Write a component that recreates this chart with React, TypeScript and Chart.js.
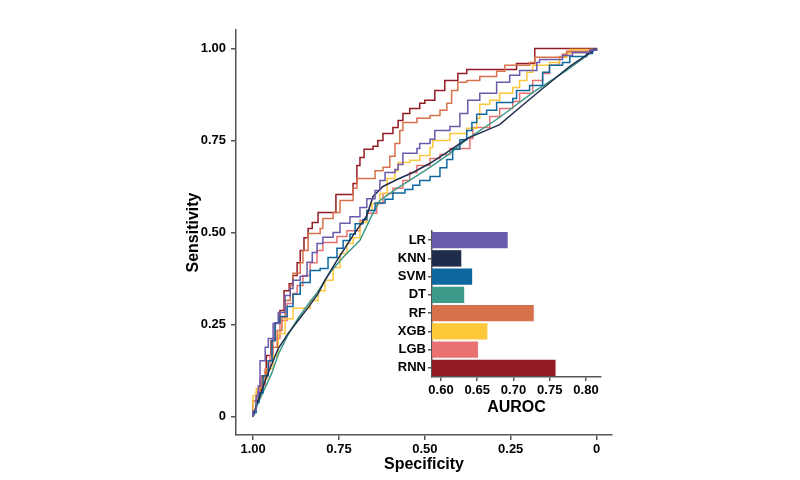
import React, { useEffect, useRef } from "react";
import { Chart, registerables } from "chart.js";

Chart.register(...registerables);

// ---- ROC curves (specificity / sensitivity) ----
const lrSpec = [1, 1.0, 0.991, 0.985, 0.98, 0.965, 0.956, 0.942, 0.927, 0.907, 0.892, 0.884, 0.863, 0.843, 0.828, 0.814, 0.797, 0.767, 0.747, 0.718, 0.689, 0.669, 0.645, 0.631, 0.616, 0.587, 0.578, 0.564, 0.523, 0.515, 0.485, 0.471, 0.427, 0.398, 0.375, 0.34, 0.291, 0.253, 0.224, 0.174, 0.166, 0.099, 0.07, 0.02, 0];
const lrSens = [0, 0.016, 0.057, 0.084, 0.152, 0.188, 0.212, 0.253, 0.283, 0.329, 0.348, 0.37, 0.381, 0.419, 0.446, 0.47, 0.487, 0.5, 0.525, 0.543, 0.568, 0.592, 0.614, 0.641, 0.663, 0.671, 0.685, 0.715, 0.728, 0.742, 0.753, 0.777, 0.788, 0.823, 0.859, 0.878, 0.908, 0.927, 0.94, 0.962, 0.97, 0.981, 0.989, 0.995, 1];

const knnSpec = [1, 0.991, 0.98, 0.965, 0.945, 0.927, 0.898, 0.869, 0.84, 0.811, 0.791, 0.756, 0.709, 0.669, 0.651, 0.622, 0.581, 0.535, 0.485, 0.427, 0.378, 0.282, 0.233, 0.157, 0.078, 0];
const knnSens = [0, 0.03, 0.057, 0.098, 0.144, 0.185, 0.226, 0.261, 0.296, 0.334, 0.37, 0.424, 0.492, 0.546, 0.598, 0.625, 0.644, 0.663, 0.688, 0.723, 0.755, 0.793, 0.832, 0.891, 0.951, 1];

const svmSpec = [1, 1.0, 0.991, 0.983, 0.971, 0.956, 0.945, 0.936, 0.922, 0.901, 0.884, 0.863, 0.834, 0.805, 0.782, 0.756, 0.738, 0.718, 0.703, 0.68, 0.669, 0.645, 0.616, 0.593, 0.558, 0.535, 0.515, 0.485, 0.456, 0.436, 0.419, 0.398, 0.378, 0.363, 0.349, 0.32, 0.291, 0.244, 0.233, 0.195, 0.157, 0.137, 0.099, 0.078, 0.029, 0.012, 0];
const svmSens = [0, 0.011, 0.038, 0.065, 0.111, 0.152, 0.207, 0.255, 0.272, 0.299, 0.332, 0.364, 0.397, 0.402, 0.432, 0.457, 0.478, 0.495, 0.524, 0.535, 0.56, 0.58, 0.59, 0.607, 0.617, 0.628, 0.641, 0.652, 0.676, 0.698, 0.726, 0.752, 0.777, 0.799, 0.821, 0.832, 0.853, 0.864, 0.886, 0.899, 0.935, 0.954, 0.962, 0.978, 0.986, 0.997, 1];

const dtSpec = [1, 0.985, 0.965, 0.945, 0.927, 0.898, 0.869, 0.84, 0.811, 0.776, 0.738, 0.689, 0.654, 0.631, 0.581, 0.485, 0.427, 0.378, 0.282, 0.186, 0.087, 0];
const dtSens = [0, 0.038, 0.079, 0.12, 0.169, 0.223, 0.267, 0.305, 0.34, 0.392, 0.433, 0.479, 0.547, 0.587, 0.62, 0.677, 0.715, 0.753, 0.813, 0.88, 0.94, 1];

const rfSpec = [1, 1.0, 0.991, 0.98, 0.965, 0.956, 0.945, 0.93, 0.916, 0.907, 0.892, 0.884, 0.863, 0.855, 0.84, 0.805, 0.797, 0.767, 0.747, 0.709, 0.698, 0.645, 0.622, 0.602, 0.587, 0.573, 0.564, 0.523, 0.485, 0.456, 0.436, 0.422, 0.404, 0.378, 0.34, 0.291, 0.267, 0.195, 0.18, 0.099, 0.087, 0.02, 0];
const rfSens = [0, 0.016, 0.052, 0.084, 0.125, 0.152, 0.188, 0.234, 0.269, 0.315, 0.356, 0.389, 0.418, 0.451, 0.497, 0.511, 0.538, 0.554, 0.587, 0.62, 0.647, 0.668, 0.677, 0.707, 0.742, 0.777, 0.799, 0.81, 0.818, 0.832, 0.851, 0.886, 0.908, 0.913, 0.924, 0.938, 0.954, 0.962, 0.976, 0.984, 0.992, 0.997, 1];

const xgbSpec = [1, 1.0, 0.991, 0.971, 0.959, 0.942, 0.927, 0.907, 0.884, 0.834, 0.811, 0.791, 0.767, 0.747, 0.727, 0.709, 0.689, 0.669, 0.654, 0.631, 0.61, 0.587, 0.578, 0.544, 0.515, 0.485, 0.477, 0.427, 0.378, 0.349, 0.34, 0.311, 0.282, 0.244, 0.224, 0.203, 0.186, 0.137, 0.108, 0.087, 0.078, 0];
const xgbSens = [0, 0.057, 0.076, 0.103, 0.13, 0.166, 0.226, 0.266, 0.294, 0.315, 0.342, 0.37, 0.405, 0.443, 0.47, 0.486, 0.527, 0.56, 0.579, 0.606, 0.647, 0.668, 0.69, 0.696, 0.709, 0.731, 0.75, 0.769, 0.783, 0.81, 0.848, 0.859, 0.878, 0.894, 0.913, 0.935, 0.954, 0.962, 0.976, 0.986, 0.997, 1];

const lgbSpec = [1, 1.0, 0.991, 0.98, 0.965, 0.951, 0.942, 0.922, 0.901, 0.884, 0.872, 0.855, 0.834, 0.814, 0.797, 0.756, 0.727, 0.689, 0.669, 0.64, 0.622, 0.593, 0.564, 0.544, 0.523, 0.485, 0.456, 0.427, 0.369, 0.36, 0.311, 0.282, 0.244, 0.224, 0.186, 0.157, 0.137, 0.108, 0.087, 0.02, 0];
const lgbSens = [0, 0.043, 0.065, 0.103, 0.13, 0.166, 0.212, 0.261, 0.307, 0.334, 0.356, 0.383, 0.418, 0.451, 0.473, 0.489, 0.505, 0.533, 0.552, 0.579, 0.606, 0.62, 0.641, 0.663, 0.682, 0.701, 0.712, 0.728, 0.755, 0.785, 0.815, 0.837, 0.856, 0.878, 0.913, 0.932, 0.954, 0.978, 0.989, 0.995, 1];

const rnnSpec = [1, 1.0, 0.985, 0.974, 0.962, 0.948, 0.936, 0.922, 0.91, 0.895, 0.884, 0.872, 0.863, 0.852, 0.84, 0.828, 0.811, 0.759, 0.709, 0.698, 0.689, 0.677, 0.651, 0.637, 0.622, 0.593, 0.578, 0.564, 0.544, 0.515, 0.5, 0.471, 0.442, 0.404, 0.378, 0.233, 0.18, 0];
const rnnSens = [0, 0.043, 0.071, 0.111, 0.166, 0.207, 0.255, 0.288, 0.342, 0.361, 0.383, 0.418, 0.451, 0.486, 0.511, 0.527, 0.554, 0.603, 0.633, 0.682, 0.704, 0.726, 0.734, 0.75, 0.769, 0.785, 0.804, 0.823, 0.837, 0.851, 0.859, 0.886, 0.913, 0.932, 0.943, 0.959, 1, 1];

// ---- Inset AUROC bars ----
const models = ["LR", "KNN", "SVM", "DT", "RF", "XGB", "LGB", "RNN"];
const auroc = [0.692, 0.628, 0.643, 0.632, 0.728, 0.664, 0.651, 0.758];
const colors = ["#6a5aad", "#1f2c4c", "#0f67a0", "#3e9a88", "#d6714a", "#fdc83a", "#e87272", "#921b25"];
const mainTicks = [0, 0.25, 0.5, 0.75, 1];
const insetTicks = [0.6, 0.65, 0.7, 0.75, 0.8];

const curves = [
  { spec: lrSpec, sens: lrSens, stepped: true },
  { spec: knnSpec, sens: knnSens, stepped: false },
  { spec: svmSpec, sens: svmSens, stepped: true },
  { spec: dtSpec, sens: dtSens, stepped: false },
  { spec: rfSpec, sens: rfSens, stepped: true },
  { spec: xgbSpec, sens: xgbSens, stepped: true },
  { spec: lgbSpec, sens: lgbSens, stepped: true },
  { spec: rnnSpec, sens: rnnSens, stepped: true },
];

function buildPoints(spec: number[], sens: number[], stepped: boolean) {
  const pts: { x: number; y: number }[] = [];
  for (let i = 0; i < spec.length; i++) {
    pts.push({ x: spec[i], y: sens[i] });
    if (stepped && i + 1 < spec.length) pts.push({ x: spec[i + 1], y: sens[i] });
  }
  return pts;
}

const FONT = "'Liberation Sans', Arial, sans-serif";
const AXIS = "#555555";

function fmt(v: number) {
  return v === 0 ? "0" : v.toFixed(2);
}

export default function App() {
  const mainRef = useRef<HTMLCanvasElement>(null);
  const insetRef = useRef<HTMLCanvasElement>(null);

  useEffect(() => {
    const main = new Chart(mainRef.current!, {
      type: "line",
      data: {
        datasets: curves.map((c, i) => ({
          label: models[i],
          data: buildPoints(c.spec, c.sens, c.stepped),
          borderColor: colors[i],
          backgroundColor: colors[i],
          borderWidth: 1.5,
          pointRadius: 0,
          tension: 0,
          fill: false,
        })),
      },
      options: {
        animation: false,
        responsive: false,
        layout: { padding: { left: 184, right: 188, top: 30, bottom: 6 } },
        plugins: { legend: { display: false }, tooltip: { enabled: false } },
        scales: {
          x: {
            type: "linear",
            reverse: true,
            min: -0.045,
            max: 1.05,
            afterBuildTicks: (s: any) => {
              s.ticks = mainTicks.map((v) => ({ value: v }));
            },
            afterFit: (s: any) => {
              s.height = 39;
            },
            ticks: {
              callback: (v: any) => fmt(Number(v)),
              color: "#000",
              font: { family: FONT, size: 13, weight: "bold" },
              padding: 2,
              maxRotation: 0,
            },
            grid: { drawOnChartArea: false, drawTicks: true, tickLength: 5, color: AXIS, lineWidth: 1.5 },
            border: { display: true, color: AXIS, width: 1.5 },
            title: {
              display: true,
              text: "Specificity",
              color: "#000",
              font: { family: FONT, size: 16, weight: "bold" },
              padding: 0,
            },
          },
          y: {
            type: "linear",
            min: -0.05,
            max: 1.05,
            afterBuildTicks: (s: any) => {
              s.ticks = mainTicks.map((v) => ({ value: v }));
            },
            afterFit: (s: any) => {
              s.width = 52;
            },
            ticks: {
              callback: (v: any) => fmt(Number(v)),
              color: "#000",
              font: { family: FONT, size: 13, weight: "bold" },
              padding: 5,
            },
            grid: { drawOnChartArea: false, drawTicks: true, tickLength: 5, color: AXIS, lineWidth: 1.5 },
            border: { display: true, color: AXIS, width: 1.5 },
            title: {
              display: true,
              text: "Sensitivity",
              color: "#000",
              font: { family: FONT, size: 16, weight: "bold" },
              padding: 0,
            },
          },
        },
      },
    });

    const inset = new Chart(insetRef.current!, {
      type: "bar",
      data: {
        labels: models,
        datasets: [
          {
            data: auroc,
            backgroundColor: colors,
            borderWidth: 0,
            barPercentage: 0.9,
            categoryPercentage: 1.0,
            base: 0.5876,
          },
        ],
      },
      options: {
        animation: false,
        responsive: false,
        indexAxis: "y",
        layout: { padding: { left: 0, right: 19, top: 11, bottom: 3 } },
        plugins: { legend: { display: false }, tooltip: { enabled: false } },
        scales: {
          x: {
            type: "linear",
            min: 0.5876,
            max: 0.8207,
            afterBuildTicks: (s: any) => {
              s.ticks = insetTicks.map((v) => ({ value: v }));
            },
            afterFit: (s: any) => {
              s.height = 40;
            },
            ticks: {
              callback: (v: any) => Number(v).toFixed(2),
              color: "#000",
              font: { family: FONT, size: 13, weight: "bold" },
              padding: 2,
              maxRotation: 0,
              autoSkip: false,
            },
            grid: { drawOnChartArea: false, drawTicks: true, tickLength: 4, color: AXIS, lineWidth: 1.5 },
            border: { display: true, color: AXIS, width: 1.5 },
            title: {
              display: true,
              text: "AUROC",
              color: "#000",
              font: { family: FONT, size: 16, weight: "bold" },
              padding: 0,
            },
          },
          y: {
            type: "category",
            offset: true,
            afterFit: (s: any) => {
              s.width = 52;
            },
            ticks: {
              color: "#000",
              font: { family: FONT, size: 13, weight: "bold" },
              padding: 2,
              autoSkip: false,
            },
            grid: { drawOnChartArea: false, drawTicks: true, tickLength: 4, color: AXIS, lineWidth: 1.5, offset: false },
            border: { display: true, color: AXIS, width: 1.5 },
          },
        },
      },
    });

    return () => {
      main.destroy();
      inset.destroy();
    };
  }, []);

  return (
    <div style={{ position: "fixed", left: 0, top: 0, width: 800, height: 480, background: "#fff" }}>
      <canvas ref={mainRef} width={800} height={480} style={{ position: "absolute", left: 0, top: 0 }} />
      <canvas ref={insetRef} width={240} height={200} style={{ position: "absolute", left: 380, top: 220 }} />
    </div>
  );
}
